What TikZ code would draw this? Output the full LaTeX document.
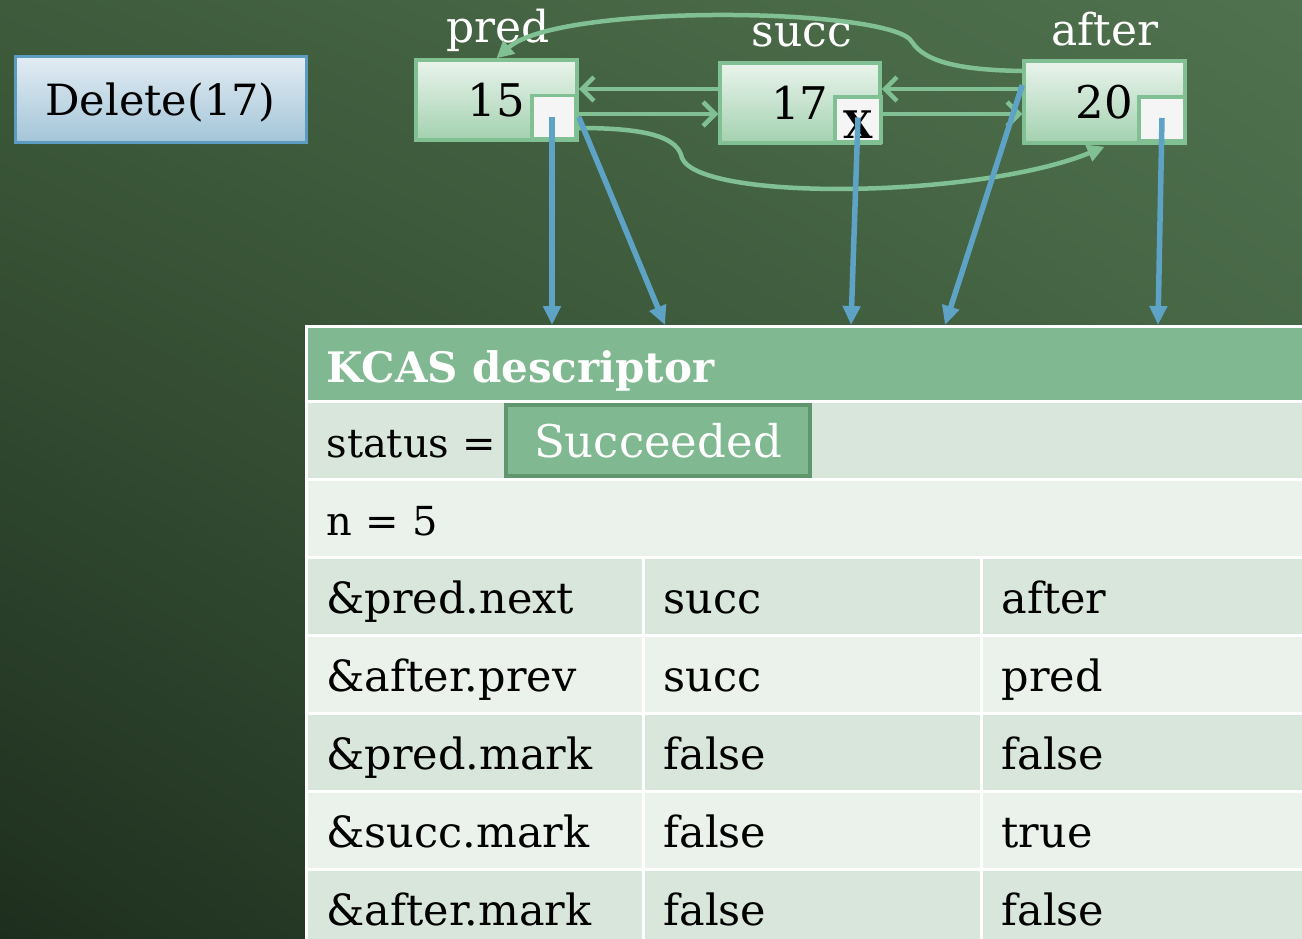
\documentclass[tikz,border=0pt]{standalone}
\usepackage{fontspec}
\setmainfont{DejaVu Serif}
\usetikzlibrary{arrows.meta,shadings}
\definecolor{bgUL}{RGB}{62,92,60}
\definecolor{bgUR}{RGB}{80,114,78}
\definecolor{bgLL}{RGB}{30,46,30}
\definecolor{bgLR}{RGB}{58,88,58}
\definecolor{gline}{RGB}{128,192,146}
\definecolor{ntop}{RGB}{234,244,236}
\definecolor{nbot}{RGB}{163,209,176}
\definecolor{barw}{RGB}{94,163,198}
\definecolor{hdrc}{RGB}{128,185,145}
\definecolor{rowdk}{RGB}{216,230,219}
\definecolor{rowlt}{RGB}{235,242,236}
\definecolor{sborder}{RGB}{96,150,110}
\definecolor{dtop}{RGB}{226,236,243}
\definecolor{dbot}{RGB}{163,197,216}
\definecolor{dline}{RGB}{92,156,192}
\begin{document}
\begin{tikzpicture}[x=1pt,y=-1pt,
  listnode/.style={draw=gline, line width=3.5pt, top color=ntop, bottom color=nbot,
    minimum width=161pt, minimum height=80pt, inner sep=0pt,
    font=\fontsize{45}{45}\selectfont},
  ptrbox/.style={draw=gline, line width=3.5pt, fill=white!96!black,
    minimum width=44pt, minimum height=43pt, inner sep=0pt},
  toplabel/.style={anchor=base, text=white, font=\fontsize{44}{44}\selectfont},
  garrow/.style={draw=gline, line width=4.5pt, -{Straight Barb[length=12pt,width=24pt]}},
  gcurve/.style={draw=gline, line width=4.5pt, -{Triangle[length=17pt,width=17pt]}},
  barrow/.style={draw=barw, line width=5.5pt, -{Triangle[length=19pt,width=17pt]}},
  cellbase/.style={anchor=north west, draw=white, line width=3pt, inner xsep=20pt,
    inner ysep=0pt, align=left, text height=36pt, text depth=2pt,
    font=\fontsize{43}{43}\selectfont},
  rowcell/.style={cellbase, minimum height=78pt},
  hdrcell/.style={cellbase, fill=hdrc, text=white, minimum height=75pt, text width=957pt,
    text height=38pt, font=\fontsize{42}{42}\selectfont\bfseries},
  colA/.style={rowcell, text width=297pt},
  colB/.style={rowcell, text width=298pt},
  colC/.style={rowcell, text width=282pt},
  dk/.style={fill=rowdk},
  lt/.style={fill=rowlt}
]
\useasboundingbox (0,0) rectangle (1302,939);
\shade[upper left=bgUL, upper right=bgUR, lower left=bgLL, lower right=bgLR] (0,0) rectangle (1302,939);

% Delete box
\node[draw=dline, line width=3pt, top color=dtop, bottom color=dbot,
  minimum width=291pt, minimum height=86pt, inner sep=0pt, text height=34pt, text depth=2pt,
  font=\fontsize{43}{43}\selectfont] (del) at (160.5,100) {Delete(17)};

% list nodes
\node[listnode] (pred) at (496.5,100) {15};
\node[listnode, minimum width=160pt] (succ) at (800,103) {17};
\node[listnode, minimum height=82pt] (after) at (1104.5,102) {20};
\node[ptrbox] (pi) at (554,117) {};
\node[ptrbox, minimum width=46pt, minimum height=45pt] (si) at (858,119.5) {};
\node[inner sep=0pt, anchor=base, font=\fontsize{38}{38}\selectfont\bfseries]
  (xmark) at (858,139) {X};
\node[ptrbox, minimum width=46pt, minimum height=44pt] (ai) at (1162,119) {};

\node[toplabel] (lpred) at (498,43) {pred};
\node[toplabel] (lsucc) at (802,47) {succ};
\node[toplabel] (lafter) at (1105,46) {after};

% table
\node[hdrcell] (hdr) at (305,325) {KCAS descriptor};
\node[rowcell, dk, text width=957pt, font=\fontsize{40}{40}\selectfont] (st) at (305,400) {status =};
\node[rowcell, lt, text width=957pt, font=\fontsize{40}{40}\selectfont] (nr) at (305,478) {n = 5};
\node[draw=sborder, line width=3.5pt, fill=hdrc, text=white, minimum width=304pt,
  minimum height=71pt, inner sep=0pt, font=\fontsize{45}{45}\selectfont]
  (sc) at (658,440.5) {Succeeded};

\node[colA, dk] (a1) at (305,556) {\&pred.next};
\node[colB, dk] (b1) at (642,556) {succ};
\node[colC, dk] (c1) at (980,556) {after};
\node[colA, lt] (a2) at (305,634) {\&after.prev};
\node[colB, lt] (b2) at (642,634) {succ};
\node[colC, lt] (c2) at (980,634) {pred};
\node[colA, dk] (a3) at (305,712) {\&pred.mark};
\node[colB, dk] (b3) at (642,712) {false};
\node[colC, dk] (c3) at (980,712) {false};
\node[colA, lt] (a4) at (305,790) {\&succ.mark};
\node[colB, lt] (b4) at (642,790) {false};
\node[colC, lt] (c4) at (980,790) {true};
\node[colA, dk] (a5) at (305,868) {\&after.mark};
\node[colB, dk] (b5) at (642,868) {false};
\node[colC, dk] (c5) at (980,868) {false};

% green straight arrows
\draw[garrow] ([yshift=14pt]succ.west) -- ([yshift=14pt]succ.west -| pred.east);
\draw[garrow] ([yshift=-14pt]pred.east) -- ([yshift=-14pt]pred.east -| succ.west);
\draw[garrow] ([yshift=13pt]after.west) -- ([yshift=13pt]after.west -| succ.east);
\draw[garrow] ([yshift=-11pt]succ.east) -- ([yshift=-11pt]succ.east -| after.west);

% green curved arrows
\draw[gcurve] ([yshift=31pt]after.west) .. controls (960,70) and (925,62) .. (912,42)
  .. controls (895,8) and (560,2) .. (pred.north);
\draw[gcurve] ([yshift=-28pt]pred.east) .. controls (650,128) and (678,138) .. (682,158)
  .. controls (700,202) and (980,198) .. ([yshift=-2pt]after.south);

% blue arrows
\coordinate (t1) at (552,325);
\coordinate (t2) at (665,325);
\coordinate (t3) at (851,325);
\coordinate (t4) at (945,325);
\coordinate (t5) at (1158,325);
\draw[barrow] ([xshift=-2pt]pi.center) -- (t1);
\draw[barrow] ([xshift=1pt]pi.east) -- (t2);
\draw[barrow] ([yshift=2pt]si.center) -- (t3);
\draw[barrow] ([yshift=17pt]after.west) -- (t4);
\draw[barrow] ([yshift=1pt]ai.center) -- (t5);
\end{tikzpicture}
\end{document}
